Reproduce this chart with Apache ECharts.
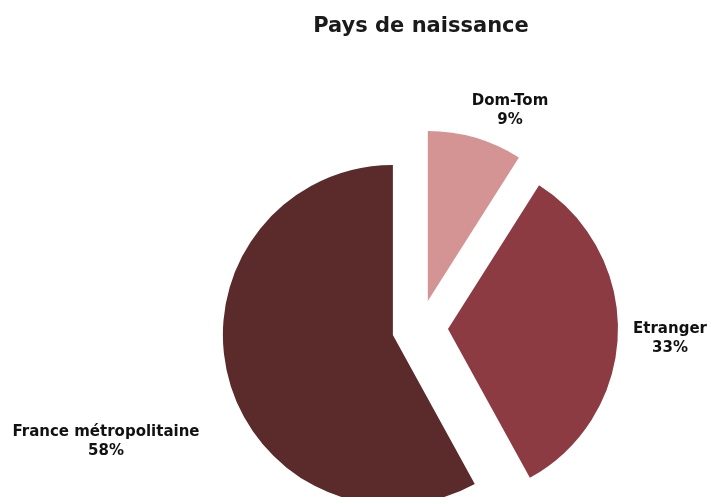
<!DOCTYPE html>
<html>
<head>
<meta charset="utf-8">
<script src="https://cdn.jsdelivr.net/npm/echarts@6/dist/echarts.min.js"></script>
<style>html,body{margin:0;padding:0;background:#fff}#c{width:710px;height:497px}</style>
</head>
<body>
<div id="c"></div>
<script>
const categories = ['Dom-Tom', 'Etranger', 'France métropolitaine'];
const values = [9, 33, 58];
const colors = ['#d49494', '#8c3b42', '#5b2a2b'];
const labelPos = [[510, 111], [670, 339], [106, 442]];

const chart = echarts.init(document.getElementById('c'), null, {renderer: 'canvas'});
chart.setOption({
  animation: false,
  backgroundColor: '#ffffff',
  title: {
    text: 'Pays de naissance',
    left: 416,
    top: 11,
    textAlign: 'center',
    textStyle: {fontFamily: 'DejaVu Sans', fontWeight: 'bold', fontSize: 21, color: '#1a1a1a'}
  },
  graphic: categories.map((c, i) => ({
    type: 'text',
    x: labelPos[i][0],
    y: labelPos[i][1],
    style: {
      text: c + '\n' + values[i] + '%',
      fill: '#111',
      font: 'bold 15px "DejaVu Sans"',
      lineHeight: 19,
      align: 'center',
      verticalAlign: 'middle'
    }
  })),
  series: [{
    type: 'pie',
    center: [420, 328],
    radius: 170,
    startAngle: 90,
    clockwise: true,
    selectedMode: 'multiple',
    selectedOffset: 28,
    emphasis: {disabled: true},
    label: {show: false},
    labelLine: {show: false},
    data: categories.map((c, i) => ({name: c, value: values[i], selected: true, itemStyle: {color: colors[i]}}))
  }]
});
</script>
</body>
</html>
